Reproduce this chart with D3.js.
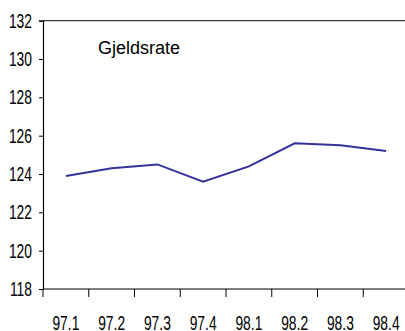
<!DOCTYPE html>
<html>
<head>
<meta charset="utf-8">
<script src="https://cdn.jsdelivr.net/npm/d3@7"></script>
<style>
  html, body { margin: 0; padding: 0; background: #fff; }
  svg { display: block; }
  text { font-family: "Liberation Sans", Arial, sans-serif; fill: #000; }
</style>
</head>
<body>
<svg id="chart" width="405" height="331"></svg>
<script>
// Quarterly debt-rate series
const quarters = ["97.1", "97.2", "97.3", "97.4", "98.1", "98.2", "98.3", "98.4"];
const gjeldsrate = [123.9, 124.3, 124.5, 123.6, 124.4, 125.6, 125.5, 125.2];
const yTicks = [118, 120, 122, 124, 126, 128, 130, 132];
const seriesTitle = "Gjeldsrate";

const svg = d3.select("#chart");
const plot = { left: 43, top: 20.7, bottom: 289, right: 409 };
const squeeze = 0.71; // narrow numerals

const x = d3.scaleBand().domain(quarters).range([plot.left, plot.right]);
const y = d3.scaleLinear().domain([118, 132]).range([plot.bottom, plot.top]);

// frame: top edge
svg.append("line")
  .attr("x1", plot.left).attr("x2", plot.right)
  .attr("y1", y(132)).attr("y2", y(132))
  .attr("stroke", "#3a3a3a").attr("stroke-width", 1.2);

// y axis
const yAxis = svg.append("g")
  .attr("transform", `translate(${plot.left},0)`)
  .call(d3.axisLeft(y).tickValues(yTicks).tickSize(4).tickPadding(0).tickFormat(d3.format("d")));
yAxis.select(".domain").attr("stroke", "#000").attr("stroke-width", 1.2);
yAxis.selectAll(".tick line").attr("stroke", "#000").attr("stroke-width", 1);
yAxis.selectAll(".tick text")
  .attr("x", null).attr("dy", null)
  .attr("text-anchor", "end")
  .attr("dominant-baseline", "central")
  .attr("transform", `translate(-11,0) scale(${squeeze},1)`)
  .style("font-size", "19.5px");

// x axis: ticks on category boundaries
const xAxis = svg.append("g")
  .attr("transform", `translate(0,${plot.bottom})`);
xAxis.append("line")
  .attr("x1", plot.left).attr("x2", plot.right)
  .attr("stroke", "#000").attr("stroke-width", 1.2);
const bounds = quarters.map(q => x(q)).concat([plot.right]);
xAxis.selectAll("line.tk").data(bounds).join("line")
  .attr("class", "tk")
  .attr("x1", d => d).attr("x2", d => d)
  .attr("y1", 0).attr("y2", 8)
  .attr("stroke", "#000").attr("stroke-width", 1);
xAxis.selectAll("text.lbl").data(quarters).join("text")
  .attr("class", "lbl")
  .attr("text-anchor", "middle")
  .attr("transform", d => `translate(${x(d) + x.bandwidth() / 2},40.5) scale(${squeeze},1)`)
  .style("font-size", "19.5px")
  .text(d => d);

// series line
const line = d3.line()
  .x((d, i) => x(quarters[i]) + x.bandwidth() / 2)
  .y(d => y(d));
svg.append("path")
  .datum(gjeldsrate)
  .attr("d", line)
  .attr("fill", "none")
  .attr("stroke", "#333399")
  .attr("stroke-width", 2);

// series title
svg.append("text")
  .attr("x", 98).attr("y", 54)
  .style("font-size", "18px")
  .text(seriesTitle);
</script>
</body>
</html>
